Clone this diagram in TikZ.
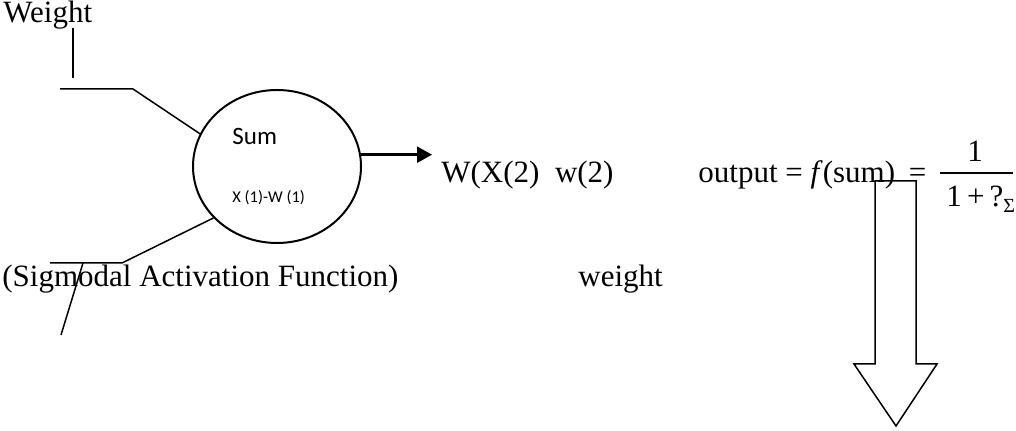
\documentclass[tikz,border=0pt]{standalone}
\usepackage{fontspec}
\setmainfont{Liberation Serif}
\newfontfamily\calib{Carlito}
\usetikzlibrary{shapes.geometric,arrows.meta}
\begin{document}
\begin{tikzpicture}[x=0.5pt,y=-0.5pt,
  lbl/.style={font=\fontsize{15.5}{18}\selectfont, inner sep=0pt, anchor=base west},
  sanslbl/.style={inner sep=0pt, anchor=base west},
  wire/.style={line width=0.75pt, line join=miter},
  outarrow/.style={line width=1.2pt, -{Triangle[length=7.5pt,width=8pt]}},
  neuronstyle/.style={ellipse, draw, line width=1pt, minimum width=84pt, minimum height=76.5pt, inner sep=0pt},
  blockarrow/.style={line width=0.75pt, line join=miter}]
\useasboundingbox (0,0) rectangle (1016,431);

% labels
\node[lbl] (weightTop) at (3,23) {Weight};
\node[lbl] (sigmoid) at (2,287) {(Sigmodal Activation Function)};
\node[lbl] (weightMid) at (578,287) {weight};
\node[lbl] (wx) at (441,183) {W(X(2)\ \ w(2)};
\node[lbl] (outeq) at (698,183) {output = \textit{f}(sum)\hspace{3pt} =};
\node[lbl, anchor=base] (num) at (975,162) {1};
\node[lbl] (den) at (946,207) {1\,+\,?\raisebox{-3pt}{\fontsize{10}{12}\selectfont Σ}};
\coordinate (barL) at (940,173);
\coordinate (barR) at (1013,173);
\draw[wire] (barL) -- (barR);

% neuron
\node[neuronstyle] (neuron) at (277,166.5) {};
\node[sanslbl, font=\calib\fontsize{12.5}{15}\selectfont] (sum) at (232,145) {Sum};
\node[sanslbl, font=\calib\fontsize{8.25}{10}\selectfont] (xw) at (232,203) {X (1)-W (1)};

% input wires
\coordinate (w1) at (73,28);
\coordinate (w2) at (73,78);
\draw[wire] (w1) -- (w2);
\coordinate (a1) at (60,89);
\coordinate (a2) at (133,89);
\draw[wire] (a1) -- (a2) -- (neuron.157);
\coordinate (b1) at (50,263);
\coordinate (b2) at (122,263);
\draw[wire] (b1) -- (b2) -- (neuron.219);
\coordinate (c1) at (83,263);
\coordinate (c2) at (61,335);
\draw[wire] (c1) -- (c2);

% output arrow
\coordinate (tip) at (432,155);
\draw[outarrow] (neuron.8) -- (neuron.8 -| tip);

% block arrow
\coordinate (s1) at (875,181);
\coordinate (s2) at (916,181);
\coordinate (s3) at (916,364);
\coordinate (s4) at (937,364);
\coordinate (s5) at (896,426);
\coordinate (s6) at (854,364);
\coordinate (s7) at (875,364);
\draw[blockarrow] (s1) -- (s2) -- (s3) -- (s4) -- (s5) -- (s6) -- (s7) -- cycle;
\end{tikzpicture}
\end{document}
